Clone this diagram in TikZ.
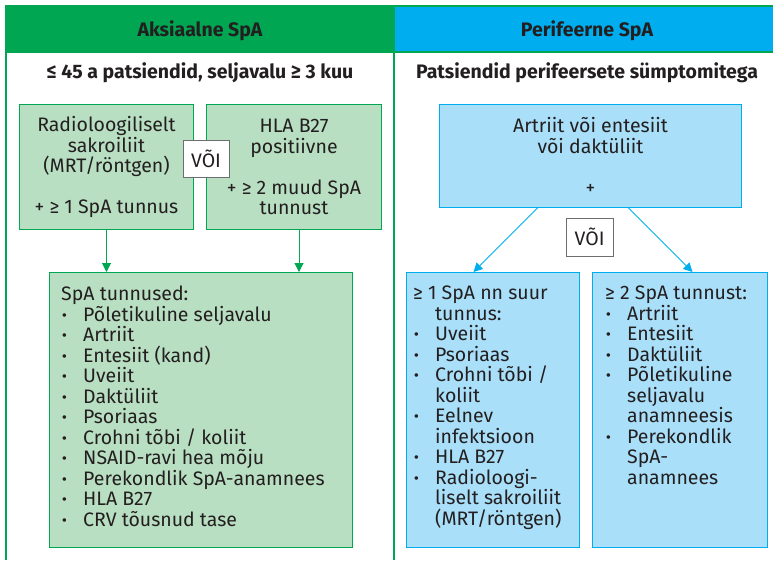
\documentclass[tikz,border=0pt]{standalone}
\usepackage{fontspec}
\setmainfont{Fira Sans}
\usetikzlibrary{arrows.meta}
\definecolor{hgreen}{HTML}{00A651}
\definecolor{lgreen}{HTML}{B9DFC2}
\definecolor{hblue}{HTML}{00AEEF}
\definecolor{lblue}{HTML}{A9DFF8}
\definecolor{txtc}{HTML}{231F20}
\definecolor{orgray}{HTML}{6D6E71}
\newcommand\bul{\makebox[22pt][l]{\hspace{1pt}\textbf{·}}}
\newcommand\ind{\hspace*{22pt}}
\begin{document}
\begin{tikzpicture}[x=1pt,y=-1pt,
  every node/.style={text=txtc},
  body/.style={font=\fontsize{19.5}{20.5}\selectfont, inner sep=0pt},
  head/.style={font=\bfseries\fontsize{19.5}{21}\selectfont, inner sep=0pt},
  sub/.style={font=\bfseries\fontsize{19.5}{20}\selectfont, inner sep=0pt},
  gbox/.style={draw=hgreen, fill=lgreen, line width=1pt, anchor=north west, inner sep=0pt},
  bbox/.style={draw=hblue, fill=lblue, line width=1pt, anchor=north west, inner sep=0pt},
  orbox/.style={draw=orgray, fill=white, line width=0.8pt, inner sep=0pt, font=\fontsize{19.5}{20}\selectfont},
  garrow/.style={draw=hgreen, line width=1pt, -{Triangle[width=9pt,length=9pt]}},
  barrow/.style={draw=hblue, line width=1pt, -{Triangle[width=9pt,length=9pt]}}]
\useasboundingbox (0,0) rectangle (773,560);
% frame and headers
\fill[hgreen] (6,6) rectangle (394,52);
\fill[hblue] (394,6) rectangle (773,52);
\draw[hgreen,line width=1.5pt] (773,6) -- (6,6) -- (6,560);
\draw[hgreen,line width=1.5pt] (6,52) -- (773,52);
\draw[hgreen,line width=2pt] (394,6) -- (394,560);
\node[head] (h1) at (200,31) {Aksiaalne SpA};
\node[head] (h2) at (587,31) {Perifeerne SpA};
\node[sub] (s1) at (200,73) {≤ 45 a patsiendid, seljavalu ≥ 3 kuu};
\node[sub] (s2) at (587,73) {Patsiendid perifeersete sümptomitega};
% left boxes
\node[gbox, minimum width=174pt, minimum height=125pt] (a) at (19,104) {};
\node[gbox, minimum width=175pt, minimum height=125pt] (b) at (206,104) {};
\node[gbox, minimum width=303pt, minimum height=275pt] (c) at (49,272) {};
\node[body, align=center] (at) at (a.center) {Radioloogiliselt\\sakroiliit\\(MRT/röntgen)\\[20.5pt]+ ≥ 1 SpA tunnus};
\node[body, align=center] (bt) at (b.center) {HLA B27\\positiivne\\[20.5pt]+ ≥ 2 muud SpA\\tunnust};
\node[orbox, minimum width=46pt, minimum height=37pt] (or1) at (206,158.5) {VÕI};
\node[body, align=left, anchor=north west] (ct) at (61,286) {SpA tunnused:\\
\bul Põletikuline seljavalu\\
\bul Artriit\\
\bul Entesiit (kand)\\
\bul Uveiit\\
\bul Daktüliit\\
\bul Psoriaas\\
\bul Crohni tõbi / koliit\\
\bul NSAID-ravi hea mõju\\
\bul Perekondlik SpA-anamnees\\
\bul HLA B27\\
\bul CRV tõusnud tase};
\draw[garrow] (a.south) -- (a.south |- c.north);
\draw[garrow] ([xshift=5pt]b.south) -- ([xshift=5pt]b.south |- c.north);
% right boxes
\node[bbox, minimum width=302pt, minimum height=103pt] (d) at (439,104) {};
\node[bbox, minimum width=173pt, minimum height=275pt] (e) at (406,272) {};
\node[bbox, minimum width=175pt, minimum height=275pt] (f) at (592,272) {};
\node[body, align=center] (dt) at (d.center) {Artriit või entesiit\\või daktüliit\\[20.5pt]+};
\node[orbox, minimum width=47pt, minimum height=38pt] (or2) at (589.5,237) {VÕI};
\node[body, align=left, anchor=north west] (et) at (413,286) {≥ 1 SpA nn suur\\
\ind tunnus:\\
\bul Uveiit\\
\bul Psoriaas\\
\bul Crohni tõbi /\\
\ind koliit\\
\bul Eelnev\\
\ind infektsioon\\
\bul HLA B27\\
\bul Radioloogi-\\
\ind liselt sakroiliit\\
\ind (MRT/röntgen)};
\node[body, align=left, anchor=north west] (ft) at (605,286) {≥ 2 SpA tunnust:\\
\bul Artriit\\
\bul Entesiit\\
\bul Daktüliit\\
\bul Põletikuline\\
\ind seljavalu\\
\ind anamneesis\\
\bul Perekondlik\\
\ind SpA-\\
\ind anamnees};
\draw[barrow] ([xshift=-53pt]d.south) -- ([xshift=-19.5pt]e.north);
\draw[barrow] ([xshift=38pt]d.south) -- ([xshift=12.5pt]f.north);
\end{tikzpicture}
\end{document}
